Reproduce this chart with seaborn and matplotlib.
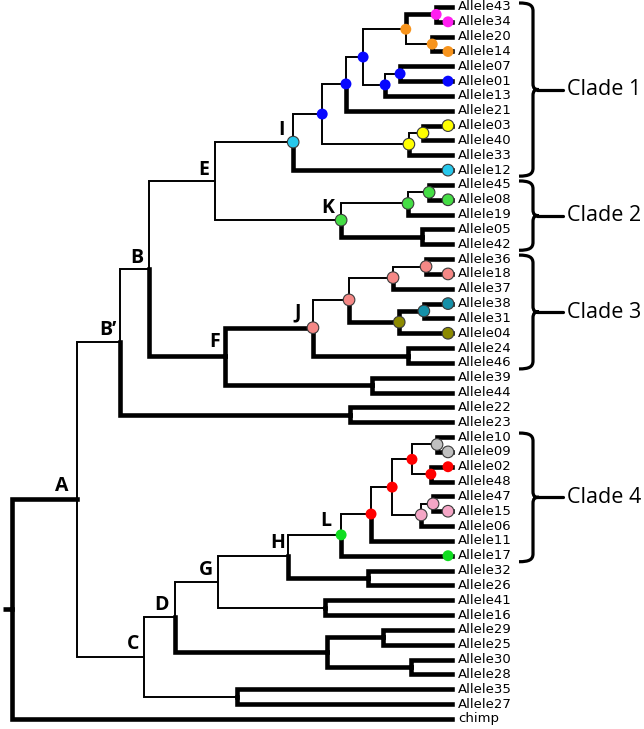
import matplotlib
matplotlib.use("Agg")
import matplotlib.pyplot as plt
from matplotlib.path import Path
from matplotlib.patches import PathPatch
import pandas as pd
import seaborn as sns

# tip order, top to bottom
leaves = ["Allele43", "Allele34", "Allele20", "Allele14", "Allele07", "Allele01",
          "Allele13", "Allele21", "Allele03", "Allele40", "Allele33", "Allele12",
          "Allele45", "Allele08", "Allele19", "Allele05", "Allele42", "Allele36",
          "Allele18", "Allele37", "Allele38", "Allele31", "Allele04", "Allele24",
          "Allele46", "Allele39", "Allele44", "Allele22", "Allele23", "Allele10",
          "Allele09", "Allele02", "Allele48", "Allele47", "Allele15", "Allele06",
          "Allele11", "Allele17", "Allele32", "Allele26", "Allele41", "Allele16",
          "Allele29", "Allele25", "Allele30", "Allele28", "Allele35", "Allele27",
          "chimp"]

# internal nodes: children (top, bottom)
children = {
    "root": ["A", "chimp"],
    "A": ["B'", "C"],
    "B'": ["B", "n2223"],
    "B": ["E", "F"],
    "E": ["I", "K"],
    "I": ["bl1", "Allele12"],
    "bl1": ["bl2", "ye1"],
    "bl2": ["bl3", "Allele21"],
    "bl3": ["or1", "bl4"],
    "or1": ["mg", "or2"],
    "mg": ["Allele43", "Allele34"],
    "or2": ["Allele20", "Allele14"],
    "bl4": ["bl5", "Allele13"],
    "bl5": ["Allele07", "Allele01"],
    "ye1": ["ye2", "Allele33"],
    "ye2": ["Allele03", "Allele40"],
    "K": ["gr2", "n0542"],
    "gr2": ["gr3", "Allele19"],
    "gr3": ["Allele45", "Allele08"],
    "n0542": ["Allele05", "Allele42"],
    "F": ["J", "n3944"],
    "J": ["sa2", "n2446"],
    "sa2": ["sa3", "ol"],
    "sa3": ["sa4", "Allele37"],
    "sa4": ["Allele36", "Allele18"],
    "ol": ["te", "Allele04"],
    "te": ["Allele38", "Allele31"],
    "n2446": ["Allele24", "Allele46"],
    "n3944": ["Allele39", "Allele44"],
    "n2223": ["Allele22", "Allele23"],
    "C": ["D", "n3527"],
    "n3527": ["Allele35", "Allele27"],
    "D": ["G", "n327"],
    "G": ["H", "n4116"],
    "n4116": ["Allele41", "Allele16"],
    "H": ["L", "n3226"],
    "n3226": ["Allele32", "Allele26"],
    "L": ["re1", "Allele17"],
    "re1": ["re2", "Allele11"],
    "re2": ["re3", "pk1"],
    "re3": ["gy", "re4"],
    "gy": ["Allele10", "Allele09"],
    "re4": ["Allele02", "Allele48"],
    "pk1": ["pk2", "Allele06"],
    "pk2": ["Allele47", "Allele15"],
    "n327": ["n2925", "n3028"],
    "n2925": ["Allele29", "Allele25"],
    "n3028": ["Allele30", "Allele28"],
}

# distance from root (tips = 1)
depth = {
    "root": 0.0, "A": 0.148, "B'": 0.245, "B": 0.311, "E": 0.461, "I": 0.639,
    "bl1": 0.705, "bl2": 0.759, "bl3": 0.798, "or1": 0.895, "mg": 0.964,
    "or2": 0.955, "bl4": 0.848, "bl5": 0.882, "ye1": 0.902, "ye2": 0.934,
    "K": 0.748, "gr2": 0.900, "gr3": 0.948, "n0542": 0.932,
    "F": 0.484, "J": 0.684, "sa2": 0.766, "sa3": 0.866, "sa4": 0.941,
    "ol": 0.880, "te": 0.936, "n2446": 0.900, "n3944": 0.818, "n2223": 0.768,
    "C": 0.300, "n3527": 0.511, "D": 0.370, "G": 0.468, "n4116": 0.711,
    "H": 0.627, "n3226": 0.809, "L": 0.748, "re1": 0.816, "re2": 0.864,
    "re3": 0.909, "gy": 0.966, "re4": 0.952, "pk1": 0.930, "pk2": 0.957,
    "n327": 0.716, "n2925": 0.843, "n3028": 0.907,
}

# branches drawn thin (everything else is thick)
thin = ["B'", "C", "B", "E", "I", "K", "bl1", "bl2", "ye1", "bl3", "or1", "bl4",
        "or2", "bl5", "ye2", "gr2", "gr3", "sa2", "sa3", "sa4", "D", "n3527",
        "G", "H", "n4116", "L", "re1", "re2", "re3", "pk1", "gy", "re4", "pk2"]

node_groups = {
    "I": "cyan", "bl1": "blue", "bl2": "blue", "bl3": "blue", "bl4": "blue",
    "bl5": "blue", "or1": "orange", "or2": "orange", "mg": "magenta",
    "ye1": "yellow", "ye2": "yellow", "K": "green", "gr2": "green", "gr3": "green",
    "J": "salmon", "sa2": "salmon", "sa3": "salmon", "sa4": "salmon",
    "ol": "olive", "te": "teal", "L": "lime", "re1": "red", "re2": "red",
    "re3": "red", "re4": "red", "gy": "grey", "pk1": "pink", "pk2": "pink",
}
tip_groups = {
    "Allele34": "magenta", "Allele14": "orange", "Allele01": "blue",
    "Allele03": "yellow", "Allele12": "cyan", "Allele08": "green",
    "Allele18": "salmon", "Allele38": "teal", "Allele04": "olive",
    "Allele09": "grey", "Allele02": "red", "Allele15": "pink", "Allele17": "lime",
}

palette = {
    "magenta": "#ff1ff0", "orange": "#f7941d", "blue": "#0808ff",
    "yellow": "#ffff00", "cyan": "#27c8ec", "green": "#45dd45",
    "salmon": "#f58886", "teal": "#1590a8", "olive": "#8c8a00",
    "red": "#ff0000", "grey": "#c0c0c0", "pink": "#f5a6c6", "lime": "#10dd20",
}
edged = ["yellow", "cyan", "green", "salmon", "teal", "olive", "grey", "pink"]

node_labels = {"A": (-15, -13), "B": (-12, -11), "B'": (-12, -12), "C": (-11, -13),
               "D": (-13, -12), "E": (-11, -11), "F": (-10, -14), "G": (-12, -12),
               "H": (-10, -13), "I": (-12, -12), "J": (-15, -15), "K": (-13, -12),
               "L": (-15, -14)}

clades = [("Clade 1", "Allele43", "Allele12"), ("Clade 2", "Allele45", "Allele42"),
          ("Clade 3", "Allele36", "Allele46"), ("Clade 4", "Allele10", "Allele17")]

# pixel mapping of the drawing
X0, XS = 12, 440.0
Y0, YS = 7, 14.83
W, H = 644, 729


def px(x):
    return (x - X0) / XS


def py(y):
    return (y - Y0) / YS


leaf_idx = {n: i for i, n in enumerate(leaves)}
ypos = {}


def get_y(n):
    if n in leaf_idx:
        ypos[n] = leaf_idx[n]
    else:
        ys = [get_y(c) for c in children[n]]
        ypos[n] = (ys[0] + ys[-1]) / 2
    return ypos[n]


get_y("root")
for n in leaves:
    depth[n] = 1.0

sns.set_style("white")
plt.rcParams["text.color"] = "black"
fig = plt.figure(figsize=(W / 100, H / 100), dpi=100)
ax = fig.add_axes([0, 0, 1, 1])
ax.set_xlim(px(0), px(W))
ax.set_ylim(py(H), py(0))
ax.axis("off")

THIN, THICK = 1.4, 3.3
for p, kids in children.items():
    for c in kids:
        lw = THIN if c in thin else THICK
        ax.plot([depth[p], depth[p], depth[c]], [ypos[p], ypos[c], ypos[c]],
                color="black", lw=lw, solid_joinstyle="miter",
                solid_capstyle="projecting" if lw == THICK else "butt", zorder=2)
ax.plot([px(3), 0], [ypos["root"], ypos["root"]], color="black", lw=THICK,
        solid_capstyle="butt")

# coloured markers
rows = [(depth[n], ypos[n], g) for n, g in node_groups.items()]
rows += [(px(448), ypos[n], g) for n, g in tip_groups.items()]
dots = pd.DataFrame(rows, columns=["x", "y", "group"])
e = dots[dots["group"].isin(edged)]
ne = dots[~dots["group"].isin(edged)]
sns.scatterplot(data=e, x="x", y="y", hue="group", palette=palette, s=70,
                edgecolor="#3a3a3a", linewidth=0.8, legend=False, zorder=5, ax=ax)
sns.scatterplot(data=ne, x="x", y="y", hue="group", palette=palette, s=62,
                linewidth=0, legend=False, zorder=5, ax=ax)
ax.set_xlabel("")
ax.set_ylabel("")
ax.set_xlim(px(0), px(W))
ax.set_ylim(py(H), py(0))

for n in leaves:
    ax.text(px(458), ypos[n], n, fontsize=9.5, va="center", ha="left",
            family="DejaVu Sans", color="black")

for n, (dx, dy) in node_labels.items():
    xx = depth[n] + dx / XS
    yy = ypos[n] + dy / YS
    ax.text(xx, yy, n.replace("'", "\u2019"), fontsize=14, fontweight="bold",
            family=["Open Sans", "DejaVu Sans"], ha="center", va="center",
            color="black")


def brace(y0, y1, ym):
    xv, xe, xt = 533, 519, 539
    verts = [(xe, y0), (529, y0), (xv, y0 + 2), (xv, y0 + 8),
             (xv, ym - 6),
             (xv, ym - 1), (xv + 2, ym), (xt, ym),
             (xv + 2, ym), (xv, ym + 1), (xv, ym + 6),
             (xv, y1 - 8),
             (xv, y1 - 2), (529, y1), (xe, y1)]
    codes = [Path.MOVETO, Path.CURVE4, Path.CURVE4, Path.CURVE4,
             Path.LINETO,
             Path.CURVE4, Path.CURVE4, Path.CURVE4,
             Path.CURVE4, Path.CURVE4, Path.CURVE4,
             Path.LINETO,
             Path.CURVE4, Path.CURVE4, Path.CURVE4]
    verts = [(px(a), py(b)) for a, b in verts]
    ax.add_patch(PathPatch(Path(verts, codes), fill=False, lw=2.3,
                           edgecolor="black", capstyle="butt"))
    ax.plot([px(xt - 2), px(563)], [py(ym), py(ym)], color="black", lw=2.3)


for name, first, last in clades:
    y0 = Y0 + YS * ypos[first] - 4
    y1 = Y0 + YS * ypos[last] + 6
    ym = (y0 + y1) / 2
    brace(y0, y1, ym)
    ax.text(px(567), py(ym), name, fontsize=15.5, family=["Open Sans", "DejaVu Sans"],
            ha="left", va="center", color="black")

fig.savefig("out.png", dpi=100)
